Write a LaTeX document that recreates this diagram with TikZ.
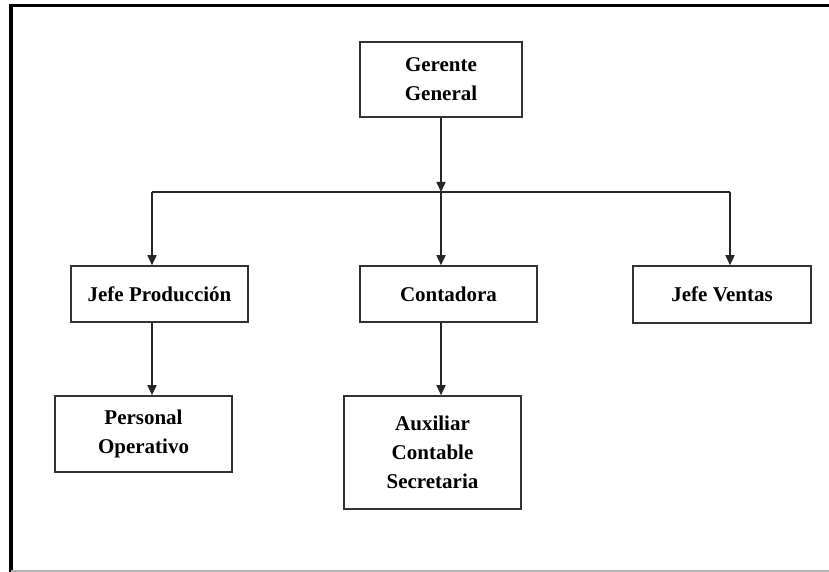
\documentclass[tikz,border=0pt]{standalone}
\usepackage{fontspec}
\setmainfont{Liberation Serif}
\usetikzlibrary{arrows.meta}

\begin{document}
\begin{tikzpicture}[x=1pt,y=-1pt,
    puesto/.style={draw=black!80, line width=1.6pt, fill=white, align=center,
        font=\fontsize{21}{29}\selectfont\bfseries, inner sep=0pt},
    flecha/.style={draw=black!85, line width=1.6pt, -{Triangle[length=10pt,width=9pt]}},
    linea/.style={draw=black!85, line width=1.6pt}]
    \useasboundingbox (0,0) rectangle (829,572);
    % Outer frame (only three sides show)
    \draw[line width=3pt] (9,6) -- (829,6);  % top
    \draw[line width=4pt] (11,4.5) -- (11,572);  % left
    \draw[black!30, line width=1.5pt] (11,571) -- (829,571);  % bottom

    % Boxes
    \node[puesto, minimum width=162pt, minimum height=75pt] (gerente) at (441,79.5) {Gerente\\General};
    \node[puesto, minimum width=177pt, minimum height=56pt] (jefeprod) at (159.5,294) {Jefe Producción};
    \node[puesto, minimum width=177pt, minimum height=56pt] (contadora) at (448.5,294) {Contadora};
    \node[puesto, minimum width=178pt, minimum height=57pt] (jefeventas) at (722,294.5) {Jefe Ventas};
    \node[puesto, minimum width=177pt, minimum height=76pt] (personal) at (143.5,434) {Personal\\Operativo};
    \node[puesto, minimum width=177pt, minimum height=113pt] (auxiliar) at (432.5,452.5) {Auxiliar\\Contable\\Secretaria};

    % Branch points on the horizontal line
    \coordinate (ramaizq) at (152,192);
    \coordinate (ramacen) at (441,192);
    \coordinate (ramader) at (730,192);

    % Arrows
    \draw[flecha] (gerente.south) -- (ramacen);
    \draw[linea] (ramaizq) -- (ramader);
    \draw[flecha] (ramaizq) -- (ramaizq |- jefeprod.north);
    \draw[flecha] (ramacen) -- (ramacen |- contadora.north);
    \draw[flecha] (ramader) -- (ramader |- jefeventas.north);
    \draw[flecha] (ramaizq |- jefeprod.south) -- (ramaizq |- personal.north);
    \draw[flecha] (ramacen |- contadora.south) -- (ramacen |- auxiliar.north);
\end{tikzpicture}
\end{document}
